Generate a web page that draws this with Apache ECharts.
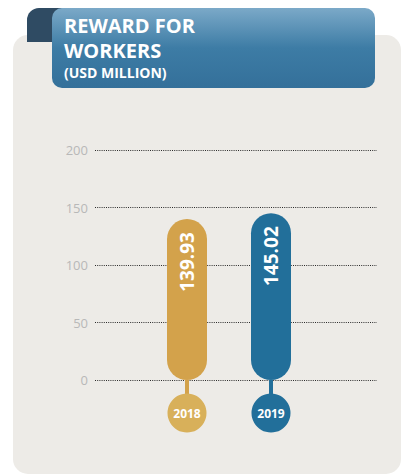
<!DOCTYPE html>
<html>
<head>
<meta charset="utf-8">
<script src="https://cdn.jsdelivr.net/npm/echarts@6/dist/echarts.min.js"></script>
<style>
html,body{margin:0;padding:0;background:#ffffff;}
#c{width:401px;height:474px;}
</style>
</head>
<body>
<div id="c"></div>
<script>
var categories = ['2018', '2019'];
var values = [139.93, 145.02];
var yTicks = [0, 50, 100, 150, 200];
var barColors = ['#d3a24b', '#226f9a'];
var circleColors = ['#d8b05a', '#226f9a'];

var FONT = '"Open Sans", "DejaVu Sans", sans-serif';
var chart = echarts.init(document.getElementById('c'), null, {renderer: 'svg'});

var gridTop = 150, gridBottom = 94;
var option = {
  animation: false,
  backgroundColor: 'transparent',
  graphic: [
    {type: 'rect', z: -10, shape: {x: 13, y: 35, width: 388, height: 439, r: [15, 15, 15, 15]}, style: {fill: '#edebe7'}},
    {type: 'rect', z: -5, shape: {x: 27, y: 8, width: 40, height: 34, r: [12, 6, 0, 0]}, style: {fill: '#2f4b63'}},
    {type: 'rect', z: -4, shape: {x: 52, y: 8, width: 323, height: 80, r: [10, 10, 10, 10]},
      style: {fill: new echarts.graphic.LinearGradient(0, 0, 0, 1, [
        {offset: 0, color: '#7ba9c8'},
        {offset: 0.5, color: '#3d7ca5'},
        {offset: 1, color: '#34709a'}
      ])}},
    {type: 'text', z: 1, left: 64, top: 13, style: {text: 'REWARD FOR\nWORKERS', fill: '#ffffff',
      font: 'bold 20px ' + FONT, lineHeight: 25}},
    {type: 'text', z: 1, left: 64, top: 63, style: {text: '(USD MILLION)', fill: '#ffffff', font: 'bold 14px ' + FONT, lineHeight: 18}}
  ],
  grid: [
    {left: 95, right: 24, top: gridTop, bottom: gridBottom},
    {left: 145, right: 88, top: gridTop, bottom: gridBottom}
  ],
  xAxis: [
    {type: 'category', gridIndex: 0, data: categories, show: false},
    {type: 'category', gridIndex: 1, data: categories, show: false}
  ],
  yAxis: [
    {type: 'value', gridIndex: 0, min: yTicks[0], max: yTicks[yTicks.length - 1], interval: 50,
      axisLine: {show: false}, axisTick: {show: false},
      axisLabel: {color: '#b8b8b8', fontSize: 13, fontFamily: FONT, margin: 7},
      splitLine: {show: true, lineStyle: {color: '#2a2a2a', width: 1, type: [1, 1.2]}}},
    {type: 'value', gridIndex: 1, min: yTicks[0], max: yTicks[yTicks.length - 1], interval: 50, show: false,
      splitLine: {show: false}}
  ],
  series: [
    {
      type: 'bar', xAxisIndex: 1, yAxisIndex: 1, z: 3,
      barWidth: 40,
      data: values.map(function (v, i) {
        return {value: v, itemStyle: {color: barColors[i], borderRadius: 20}};
      }),
      label: {
        show: true, position: 'insideTop', rotate: 90, distance: 13,
        align: 'right', verticalAlign: 'middle',
        color: '#ffffff', fontSize: 19, fontWeight: 'bold', fontFamily: FONT,
        formatter: function (p) { return p.value.toFixed(2); }
      }
    },
    {
      type: 'custom', xAxisIndex: 1, yAxisIndex: 1, z: 4, clip: false,
      data: categories.map(function (c, i) { return [i, 0]; }),
      renderItem: function (params, api) {
        var i = params.dataIndex;
        var p = api.coord([api.value(0), 0]);
        var col = circleColors[i];
        return {
          type: 'group',
          children: [
            {type: 'rect', shape: {x: p[0] - 2, y: p[1], width: 4, height: 16}, style: {fill: barColors[i]}},
            {type: 'circle', shape: {cx: p[0], cy: p[1] + 33, r: 19.5}, style: {fill: col}},
            {type: 'text', style: {x: p[0], y: p[1] + 33, text: categories[i], fill: '#ffffff',
              font: 'bold 12px ' + FONT, align: 'center', verticalAlign: 'middle'}}
          ]
        };
      }
    }
  ]
};
chart.setOption(option);
</script>
</body>
</html>
